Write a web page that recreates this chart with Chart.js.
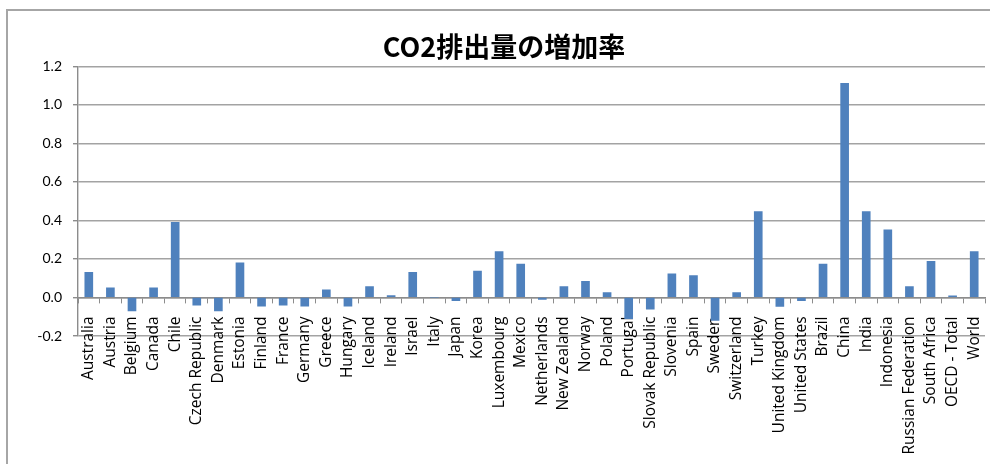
<!DOCTYPE html>
<html>
<head>
<meta charset="utf-8">
<script src="https://cdn.jsdelivr.net/npm/chart.js@4.4.1/dist/chart.umd.min.js"></script>
<style>
  html, body { margin: 0; padding: 0; background: #ffffff; }
  #wrap { position: relative; width: 990px; height: 464px; overflow: hidden; }
  #frame { position: absolute; left: 6px; top: 9px; width: 1200px; height: 800px;
           border-left: 2px solid #a6a6a6; border-top: 2px solid #a6a6a6; box-sizing: border-box; }
  canvas { position: absolute; left: 0; top: 0; }
</style>
</head>
<body>
<div id="wrap">
  <div id="frame"></div>
  <canvas id="c" width="990" height="464"></canvas>
</div>
<script>
const titleText = 'CO2排出量の増加率';

const categories = [
  'Australia', 'Austria', 'Belgium', 'Canada', 'Chile', 'Czech Republic', 'Denmark',
  'Estonia', 'Finland', 'France', 'Germany', 'Greece', 'Hungary', 'Iceland', 'Ireland',
  'Israel', 'Italy', 'Japan', 'Korea', 'Luxembourg', 'Mexico', 'Netherlands',
  'New Zealand', 'Norway', 'Poland', 'Portugal', 'Slovak Republic', 'Slovenia', 'Spain',
  'Sweden', 'Switzerland', 'Turkey', 'United Kingdom', 'United States', 'Brazil',
  'China', 'India', 'Indonesia', 'Russian Federation', 'South Africa', 'OECD - Total', 'World'
];

const growthRates = [
  0.13, 0.05, -0.07, 0.05, 0.39, -0.04, -0.07,
  0.18, -0.045, -0.04, -0.045, 0.04, -0.045, 0.056, 0.01,
  0.13, 0.0, -0.016, 0.137, 0.239, 0.174, -0.01,
  0.056, 0.084, 0.026, -0.11, -0.061, 0.123, 0.114,
  -0.119, 0.026, 0.446, -0.047, -0.016, 0.174,
  1.112, 0.446, 0.351, 0.056, 0.188, 0.009, 0.239
];

const yTickValues = [-0.2, 0.0, 0.2, 0.4, 0.6, 0.8, 1.0, 1.2];

new Chart(document.getElementById('c'), {
  type: 'bar',
  data: {
    labels: categories,
    datasets: [{
      label: titleText,
      data: growthRates,
      backgroundColor: '#4F81BD',
      borderWidth: 0,
      barThickness: 8
    }]
  },
  options: {
    responsive: false,
    animation: false,
    layout: { padding: { left: 23, right: 5, top: 0, bottom: 128 } },
    plugins: {
      legend: { display: false },
      tooltip: { enabled: false },
      title: {
        display: true,
        text: titleText,
        color: '#000000',
        font: { family: '"Noto Sans CJK JP"', size: 27, weight: 'bold', lineHeight: 1.2 },
        padding: { top: 31, bottom: 3 }
      }
    },
    scales: {
      y: {
        min: yTickValues[0],
        max: yTickValues[yTickValues.length - 1],
        afterFit: (s) => { s.width = 55; s.paddingTop = 0; s.paddingBottom = 0; },
        afterBuildTicks: (s) => { s.ticks = yTickValues.map(v => ({ value: v })); },
        ticks: {
          color: '#000000',
          font: { family: 'Lato', size: 14 },
          padding: 11,
          callback: (v) => Number(v).toFixed(1)
        },
        grid: {
          color: '#a3a3a3',
          lineWidth: 1.4,
          tickLength: 5,
          tickColor: '#8c8c8c'
        },
        border: { display: true, color: '#8c8c8c', width: 1.4 }
      },
      x: {
        position: { y: 0 },
        afterFit: (s) => { s.paddingLeft = 0; s.paddingRight = 0; },
        ticks: {
          color: '#000000',
          font: { family: '"Open Sans"', size: 15.5 },
          autoSkip: false,
          maxRotation: 90,
          minRotation: 90,
          padding: 14
        },
        grid: {
          drawOnChartArea: false,
          drawTicks: true,
          tickLength: 5,
          color: '#8c8c8c',
          offset: true
        },
        border: { display: true, color: '#8c8c8c', width: 1.4 }
      }
    }
  }
});
</script>
</body>
</html>
